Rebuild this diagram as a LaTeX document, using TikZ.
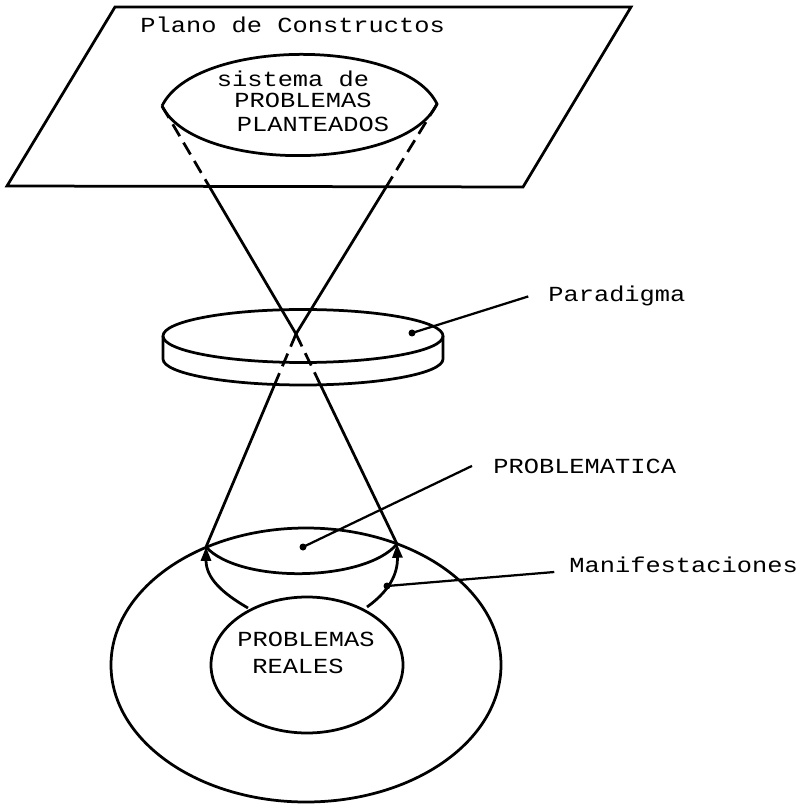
\documentclass[tikz,border=0pt]{standalone}
\usepackage{fontspec}
\newfontfamily\typewriter[FakeStretch=1.18]{Liberation Mono}
\usetikzlibrary{calc,arrows.meta}

\begin{document}
\begin{tikzpicture}[x=0.4pt, y=-0.4pt, line width=1.1pt,
    txt/.style={font=\typewriter\fontsize{8.6pt}{10pt}\selectfont, inner sep=0pt, anchor=base west},
    ctr/.style={txt, anchor=base},
    leader/.style={line width=0.9pt},
    hidden/.style={dash pattern=on 5.5pt off 3pt},
    tip/.style={-{Triangle[length=5.5pt,width=4pt]}}]
\useasboundingbox (0,0) rectangle (804,804);

%Coordinates
\coordinate (UL)    at (162,106);
\coordinate (UR)    at (437,104);
\coordinate (apex)  at (296,334);
\coordinate (LT)    at (206,547);
\coordinate (RT)    at (397,544);
\coordinate (pdot)  at (412,333);
\coordinate (mdot)  at (303,547);
\coordinate (fdot)  at (387,586);
\coordinate (RLs)   at (248,608);
\coordinate (RRs)   at (367,607);
\coordinate (ULe)   at ($(UL)!0.353!(apex)$);
\coordinate (URe)   at ($(UR)!0.359!(apex)$);
\coordinate (LLe)   at ($(apex)!0.235!(LT)$);
\coordinate (LRe)   at ($(apex)!0.235!(RT)$);

%Nodes
\node[txt]  (plano)     at (139,33)     {Plano de Constructos};
\node[ctr]  (sis)       at (293,87)     {sistema de};
\node[ctr]  (plant1)    at (303,108)    {PROBLEMAS};
\node[ctr]  (plant2)    at (313,132)    {PLANTEADOS};
\node[txt]  (para)      at (547,302)    {Paradigma};
\node[txt]  (probca)    at (492,473)    {PROBLEMATICA};
\node[txt]  (manif)     at (568,572)    {Manifestaciones};
\node[ctr]  (real1)     at (306,646)    {PROBLEMAS};
\node[ctr]  (real2)     at (298,673)    {REALES};

%Plane and upper lens
\draw (115,7) -- (631,7) -- (523,187) -- (7,186) -- cycle;
\draw (UL) .. controls (195,38) and (405,37) .. (UR)
           .. controls (405,172) and (195,173) .. (UL);

%Upper cone
\draw[hidden] (UL) -- (ULe);
\draw[hidden] (UR) -- (URe);
\draw (ULe) -- (apex) -- (URe);

%Disc
\draw (303,336) ellipse [x radius=140, y radius=26.5];
\draw (163,336) -- (163,359) arc[start angle=180, end angle=0, x radius=140, y radius=26] -- (443,336);

%Lower cone
\draw[hidden] (apex) -- (LLe);
\draw[hidden] (apex) -- (LRe);
\draw (LLe) -- (LT);
\draw (LRe) -- (RT);

%Lower figure
\draw (306,665) ellipse [x radius=195, y radius=137];
\draw (LT) .. controls (240,584) and (365,582) .. (RT);
\draw (307,665) ellipse [x radius=96, y radius=68];
\draw[tip] (RLs) .. controls (222,593) and (206,578) .. (LT);
\draw[tip] (RRs) .. controls (388,592) and (398,575) .. (RT);

%Leaders
\fill (pdot) circle (3.5);
\fill (mdot) circle (3.5);
\fill (fdot) circle (3.5);
\draw[leader] ([xshift=-7.5pt]para.west) -- (pdot);
\draw[leader] ([xshift=-8pt]probca.west) -- (mdot);
\draw[leader] ([xshift=-5.5pt]manif.base west) -- (fdot);
\end{tikzpicture}
\end{document}
